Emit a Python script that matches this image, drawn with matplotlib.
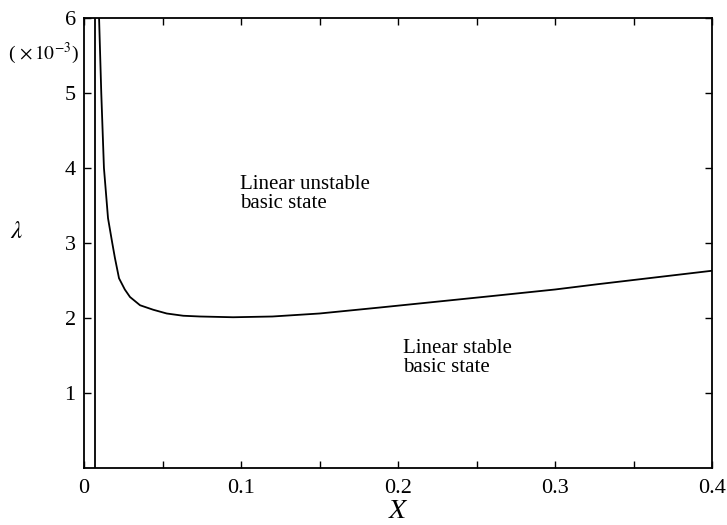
import matplotlib
matplotlib.use("Agg")
import matplotlib.pyplot as plt
from matplotlib.ticker import MultipleLocator, FixedLocator, FixedFormatter

# data (lambda in units of 1e-3)
curve_x = [0.0096, 0.0110, 0.0127, 0.0153, 0.0180, 0.0197, 0.0223, 0.0260, 0.0293,
           0.0357, 0.0441, 0.0527, 0.0632, 0.0739, 0.0950, 0.1200, 0.1500, 0.1885,
           0.2586, 0.3000, 0.3270, 0.4000]
curve_y = [6.00, 5.00, 4.00, 3.33, 3.00, 2.80, 2.53, 2.38, 2.28,
           2.17, 2.11, 2.06, 2.03, 2.02, 2.01, 2.02, 2.06, 2.14,
           2.29, 2.38, 2.45, 2.63]
vline_x = [0.0070, 0.0070]
vline_y = [0.0, 6.0]

xticks = [0, 0.1, 0.2, 0.3, 0.4]
xticklabels = ["0", "0.1", "0.2", "0.3", "0.4"]
yticks = [1, 2, 3, 4, 5, 6]
yticklabels = ["1", "2", "3", "4", "5", "6"]

plt.rcParams['font.family'] = ['Liberation Serif', 'DejaVu Serif']
plt.rcParams['mathtext.fontset'] = 'stix'

fig = plt.figure(figsize=(7.27, 5.25), dpi=100)
ax = fig.add_axes([84/727, 1-468/525, (712-84)/727, (468-18)/525])

ax.plot(curve_x, curve_y, color='black', lw=1.3)
ax.plot(vline_x, vline_y, color='black', lw=1.3)

ax.set_xlim(0, 0.4)
ax.set_ylim(0, 6)
ax.xaxis.set_major_locator(FixedLocator(xticks))
ax.xaxis.set_major_formatter(FixedFormatter(xticklabels))
ax.xaxis.set_minor_locator(MultipleLocator(0.05))
ax.yaxis.set_major_locator(FixedLocator(yticks))
ax.yaxis.set_major_formatter(FixedFormatter(yticklabels))

ax.tick_params(which='both', direction='in', top=True, right=True, length=5, width=1, labelsize=16)
ax.tick_params(axis='x', pad=8)
ax.tick_params(axis='y', pad=6)
for s in ax.spines.values():
    s.set_linewidth(1.3)

ax.text(0.0994, 3.65, "Linear unstable\nbasic state", fontsize=15, ha='left', va='center', linespacing=1.0)
ax.text(0.203, 1.47, "Linear stable\nbasic state", fontsize=15, ha='left', va='center', linespacing=1.0)

fig.text(8/727, 1-53/525, r"( $\times\,10^{-3}$)", fontsize=14, ha='left', va='center')
fig.text(17/727, 1-232/525, r"$\lambda$", fontsize=18, ha='center', va='center')
fig.text(398/727, 1-512/525, r"$X$", fontsize=20, ha='center', va='center')

fig.savefig("out.png", dpi=100)
